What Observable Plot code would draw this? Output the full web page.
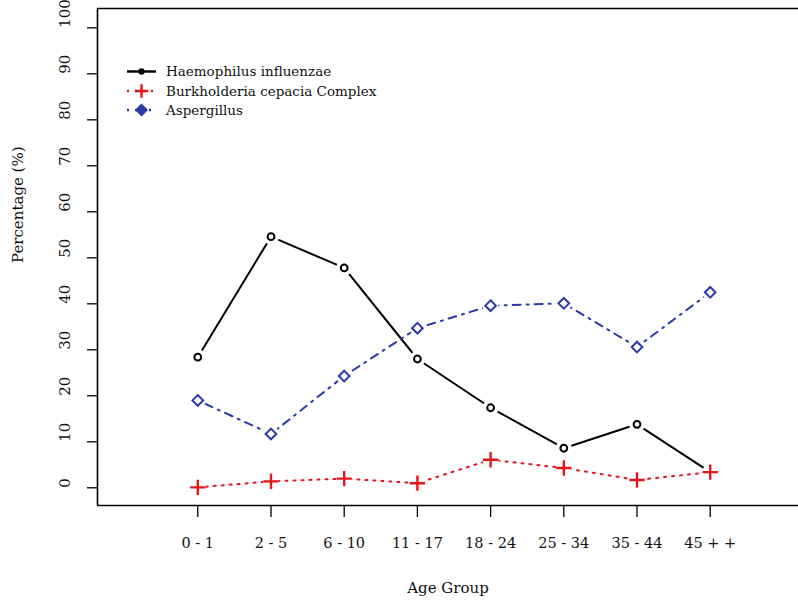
<!DOCTYPE html>
<html><head><meta charset="utf-8">
<script src="https://cdn.jsdelivr.net/npm/d3@7"></script>
<script src="https://cdn.jsdelivr.net/npm/@observablehq/plot@0.6"></script>
<style>
body{margin:0;background:#fff}
#wrap{position:relative;width:798px;height:605px;overflow:hidden}
#legend{position:absolute;left:0;top:0}
</style>
</head><body><div id="wrap"></div>
<script>
// ---- data ----
const ageGroups = ["0 - 1","2 - 5","6 - 10","11 - 17","18 - 24","25 - 34","35 - 44","45 + +"];
const haemophilus  = [28.4, 54.6, 47.8, 28.0, 17.4, 8.6, 13.8, 3.4];
const burkholderia = [0.1, 1.4, 2.0, 1.0, 6.1, 4.3, 1.7, 3.4];
const aspergillus  = [19.0, 11.7, 24.3, 34.7, 39.6, 40.1, 30.6, 42.5];
const seriesNames = ["Haemophilus influenzae", "Burkholderia cepacia Complex", "Aspergillus"];
const yTicks = [0, 10, 20, 30, 40, 50, 60, 70, 80, 90, 100];
const xLabel = "Age Group";
const yLabel = "Percentage (%)";

// ---- styles ----
const FONT = "DejaVu Serif";
const TXT = "#111";
const styles = [
  {color: "#000000", dash: null, symbol: "circle", r: 3.4, sw: 2},
  {color: "#e8141c", dash: "2,6", symbol: "plus", r: 5, sw: 2.4},
  {color: "#2b3aa6", dash: "2,6,8,6", symbol: "diamond2", r: 4.8, sw: 2}
];
const seriesValues = [haemophilus, burkholderia, aspergillus];
const xPos = ageGroups.map((_, i) => i + 1);
const rows = seriesValues.map((vals, s) => vals.map((v, i) => ({series: seriesNames[s], x: i + 1, value: v})));

const xDomain = [-0.37, 9.206];
const yDomain = [-3.85, 104.2];

const marks = [
  Plot.ruleY(yDomain, {stroke: "#000", strokeWidth: 1.6}),
  Plot.ruleX([xDomain[0]], {stroke: "#000", strokeWidth: 1.6}),
  Plot.axisY({ticks: yTicks, tickSize: 10, tickFormat: () => "", label: null, stroke: "#000", strokeWidth: 1.3}),
  Plot.text(yTicks, {y: d => d, text: d => String(d), frameAnchor: "left", dx: -32, rotate: -90,
    fontSize: 15, fontFamily: FONT, fill: TXT}),
  Plot.axisX({ticks: xPos, tickFormat: d => ageGroups[d - 1], tickSize: 12, tickPadding: 20, label: null,
    fontSize: 14.5, fontFamily: FONT, fill: TXT, stroke: "#000", strokeWidth: 1.3}),
  Plot.text([yLabel], {frameAnchor: "left", dx: -79, dy: 6, rotate: -90, fontSize: 15, fontFamily: FONT, fill: TXT}),
  Plot.text([xLabel], {frameAnchor: "bottom", dy: 87, fontSize: 15, fontFamily: FONT, fill: TXT})
];
rows.forEach((data, s) => {
  const st = styles[s];
  marks.push(Plot.line(data, {x: "x", y: "value", stroke: st.color, strokeWidth: 2, strokeDasharray: st.dash}));
  marks.push(Plot.dot(data, {x: "x", y: "value", r: 8, fill: "#ffffff", fillOpacity: 1, symbol: "circle"}));
  marks.push(Plot.dot(data, {x: "x", y: "value", r: st.r, symbol: st.symbol, stroke: st.color, strokeWidth: st.sw,
    fill: st.symbol === "circle" ? "#fff" : "none"}));
});

const chart = Plot.plot({
  width: 798, height: 605,
  marginLeft: 97, marginRight: 0, marginTop: 8, marginBottom: 100,
  x: {type: "linear", domain: xDomain, axis: null},
  y: {type: "linear", domain: yDomain, axis: null},
  style: {fontFamily: FONT, fontSize: "14.5px", background: "#fff", color: TXT},
  marks
});
const wrap = document.getElementById("wrap");
wrap.appendChild(chart);

// ---- legend overlay ----
const leg = d3.select(wrap).append("svg").attr("id", "legend").attr("width", 400).attr("height", 130);
const rowY = [71.5, 91, 110];
const symGen = [d3.symbolCircle, d3.symbolPlus, d3.symbolDiamond2];
seriesNames.forEach((name, i) => {
  const st = styles[i];
  const y = rowY[i];
  leg.append("line").attr("x1", 127).attr("x2", 156).attr("y1", y).attr("y2", y)
    .attr("stroke", st.color).attr("stroke-width", 2.4).attr("stroke-dasharray", st.dash);
  leg.append("path").attr("transform", `translate(141.5,${y})`)
    .attr("d", d3.symbol(symGen[i], i === 0 ? 12 : 60)())
    .attr("fill", i === 1 ? "none" : st.color).attr("stroke", st.color).attr("stroke-width", 2.4);
  leg.append("text").attr("x", 166).attr("y", y).attr("dy", "0.35em")
    .attr("font-family", FONT).attr("font-size", 13.5).attr("fill", TXT).text(name);
});
</script>
</body></html>
